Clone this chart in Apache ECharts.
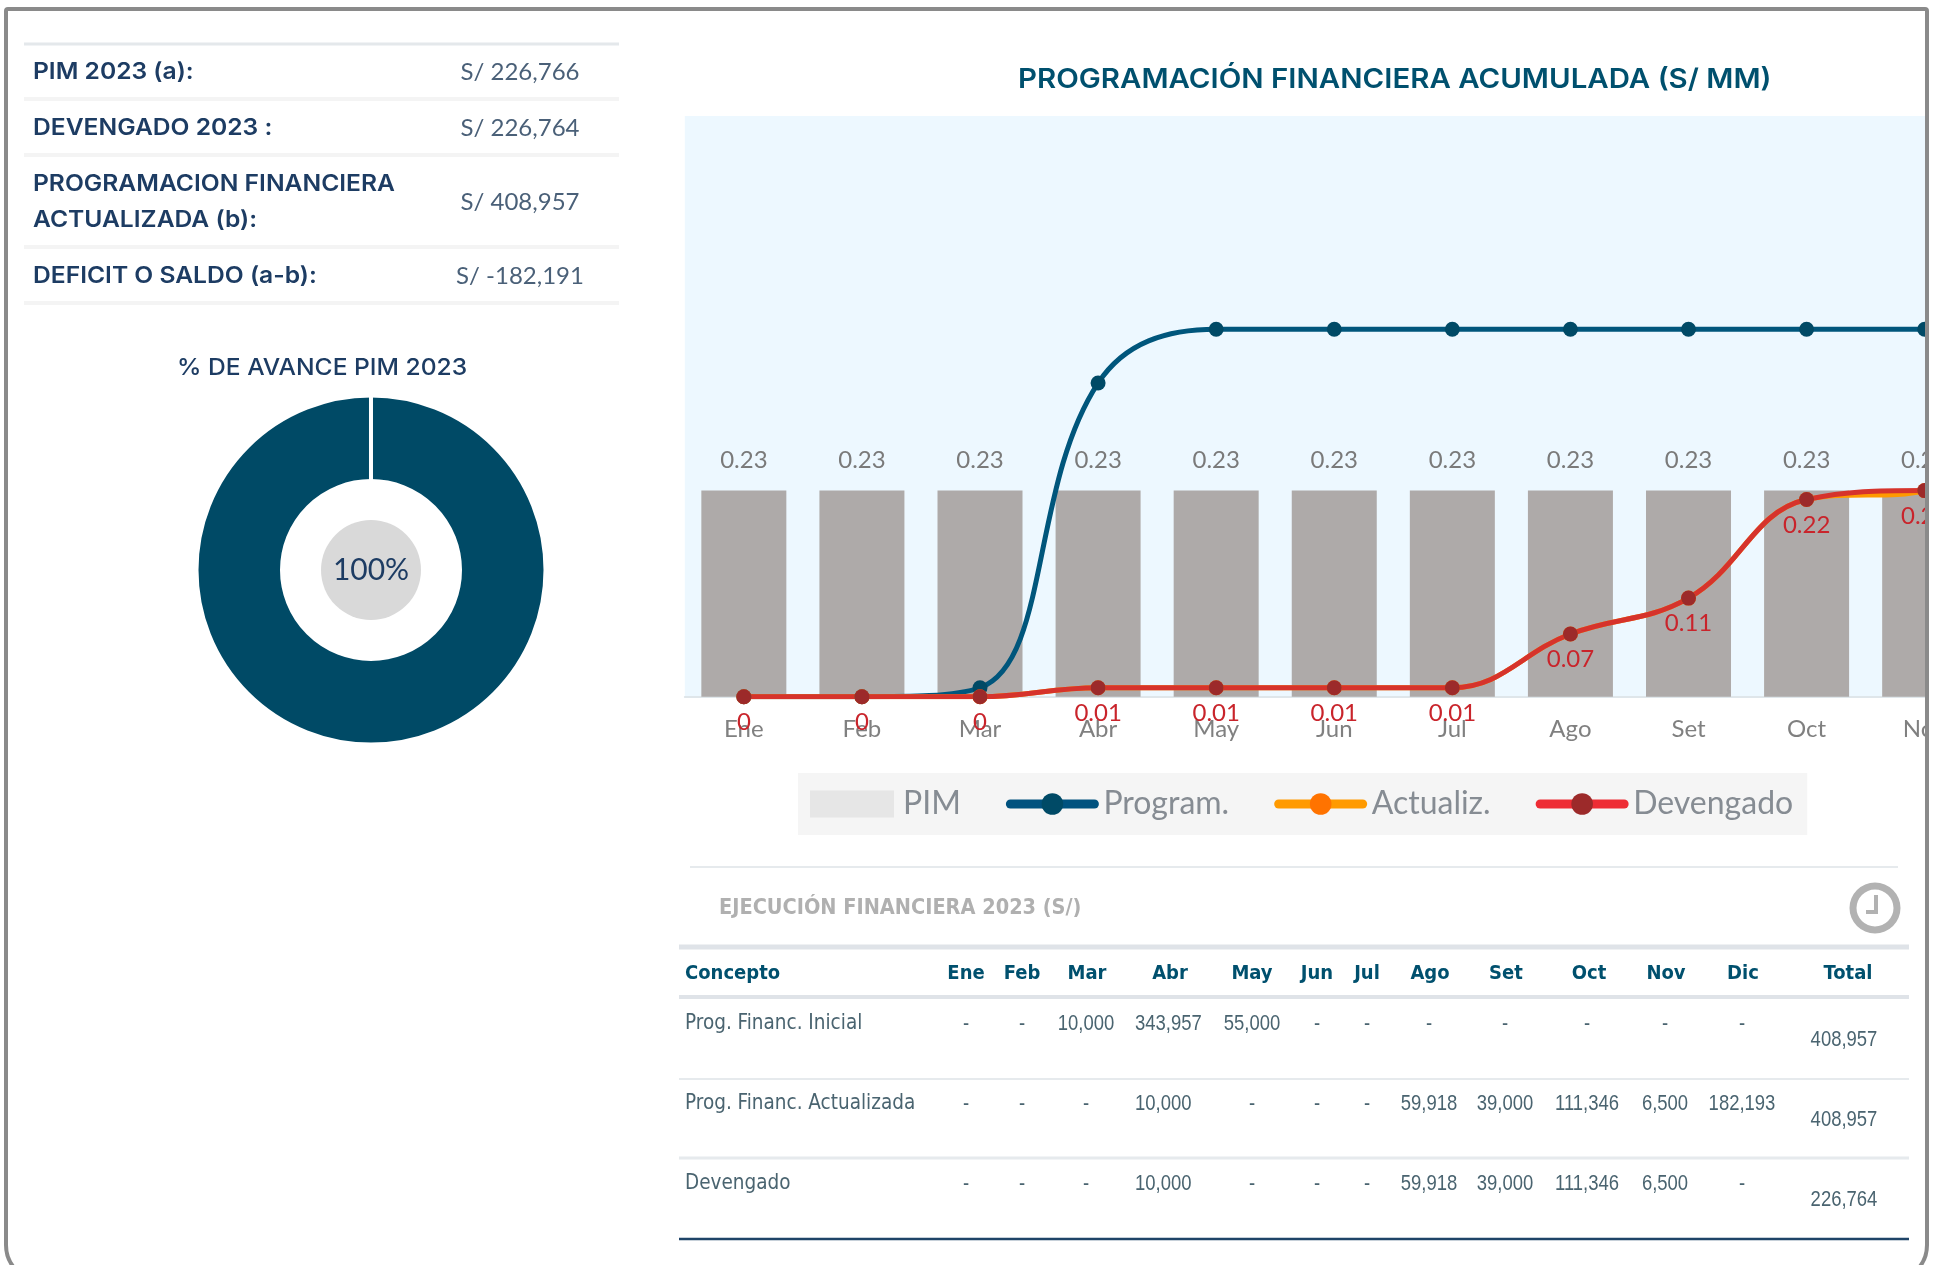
<!DOCTYPE html>
<html>
<head>
<meta charset="utf-8">
<title>Programación financiera</title>
<script src="https://cdn.jsdelivr.net/npm/echarts@6/dist/echarts.min.js"></script>
<style>
  html, body { margin: 0; padding: 0; background: #fff; }
  #main { width: 1947px; height: 1265px; }
</style>
</head>
<body>
<div id="main"></div>
<script>
// datos del grafico (S/ MM acumulado)
var meses = ['Ene', 'Feb', 'Mar', 'Abr', 'May', 'Jun', 'Jul', 'Ago', 'Set', 'Oct', 'Nov', 'Dic'];
var pim = [0.23, 0.23, 0.23, 0.23, 0.23, 0.23, 0.23, 0.23, 0.23, 0.23, 0.23, 0.23];
var program = [0, 0, 0.01, 0.35, 0.41, 0.41, 0.41, 0.41, 0.41, 0.41, 0.41, 0.41];
var actualiz = [0, 0, 0, 0.01, 0.01, 0.01, 0.01, 0.07, 0.11, 0.22, 0.23, 0.41];
var devengado = [0, 0, 0, 0.01, 0.01, 0.01, 0.01, 0.07, 0.11, 0.22, 0.23, 0.23];

// resumen de la izquierda
var resumenLabels = ['PIM 2023 (a):', 'DEVENGADO 2023 :', 'PROGRAMACION FINANCIERA\nACTUALIZADA (b):', 'DEFICIT O SALDO (a-b):'];
var resumenValores = ['S/ 226,766', 'S/ 226,764', 'S/ 408,957', 'S/ -182,191'];
var avanceValores = [226764, 2];
var avanceTexto = '100%';

// tabla de ejecucion
var filaConceptos = ['Prog. Financ. Inicial', 'Prog. Financ. Actualizada', 'Devengado'];
var filaInicial = [null, null, 10000, 343957, 55000, null, null, null, null, null, null, null];
var filaActualizada = [null, null, null, 10000, null, null, null, 59918, 39000, 111346, 6500, 182193];
var filaDevengado = [null, null, null, 10000, null, null, null, 59918, 39000, 111346, 6500, null];
var filaTotales = [408957, 408957, 226764];

var latin = 'Lato';
var titulo = 'Inter';
var tablaFont = '"DejaVu Sans Condensed", "DejaVu Sans"';
var numFont = '"Liberation Sans"';

function fmt(v) {
    return v === null ? '-' : v.toLocaleString('en-US');
}
function txt(x, y, text, font, size, color, align, weight, sx) {
    return {
        type: 'text', x: x, y: y, z: 50, silent: true, scaleX: sx || 1,
        style: {
            text: text, fontFamily: font, fontSize: size, fill: color,
            align: align || 'left', verticalAlign: 'middle', fontWeight: weight || 'normal', lineHeight: 36
        }
    };
}
function linea(x1, x2, y, w, color) {
    return { type: 'line', z: 50, silent: true, shape: { x1: x1, y1: y, x2: x2, y2: y }, style: { stroke: color, lineWidth: w } };
}

var graphics = [];

// titulos
graphics.push(txt(1018, 80, 'PROGRAMACIÓN FINANCIERA ACUMULADA (S/ MM)', titulo, 27, '#00506e', 'left', 600, 1.09));
graphics.push(txt(177, 368, '% DE AVANCE PIM 2023', titulo, 23, '#1d3c63', 'left', 500, 1.07));

// resumen
var resumenY = [72, 128, 202, 276];
[44, 99, 155, 247, 303].forEach(function (y, i) {
    graphics.push(linea(24, 619, y, i == 0 ? 3 : 4, i == 0 ? '#e4e8eb' : '#f4f4f4'));
});
resumenLabels.forEach(function (t, i) {
    graphics.push(txt(33, resumenY[i], t, titulo, 23, '#1d3c63', 'left', 600, 1.07));
    graphics.push(txt(520, resumenY[i], resumenValores[i], latin, 24, '#4a6078', 'center'));
});

// tabla
var colX = [966, 1022, 1087, 1170, 1252, 1317, 1367, 1430, 1506, 1589, 1666, 1743];
var celdaX = [966, 1022, 1086, 1135, 1252, 1317, 1367, 1429, 1505, 1587, 1665, 1742];
var filaY = [1024, 1104, 1184];
graphics.push(linea(690, 1898, 867, 2, '#e6eaed'));
graphics.push(txt(719, 908, 'EJECUCIÓN FINANCIERA 2023 (S/)', tablaFont, 21.5, '#b0b0b0', 'left', 'bold'));
graphics.push(linea(679, 1909, 947, 5, '#dfe3e8'));
graphics.push(linea(679, 1909, 997, 4, '#dfe3e8'));
graphics.push(linea(679, 1909, 1079, 2, '#e6eaed'));
graphics.push(linea(679, 1909, 1158, 3, '#e6eaed'));
graphics.push(linea(679, 1909, 1239, 2.5, '#1f4468'));
graphics.push(txt(685, 974, 'Concepto', tablaFont, 20, '#00506e', 'left', 'bold'));
meses.forEach(function (m, i) {
    graphics.push(txt(colX[i], 974, m, tablaFont, 20, '#00506e', 'center', 'bold'));
});
graphics.push(txt(1848, 974, 'Total', tablaFont, 20, '#00506e', 'center', 'bold'));
[filaInicial, filaActualizada, filaDevengado].forEach(function (fila, r) {
    graphics.push(txt(685, filaY[r], filaConceptos[r], tablaFont, 20.5, '#4a6470'));
    fila.forEach(function (v, i) {
        graphics.push(txt(celdaX[i], filaY[r], fmt(v), numFont, 22, '#4a6470', i == 3 ? 'left' : 'center', 'normal', 0.84));
    });
    graphics.push(txt(1844, filaY[r] + 16, fmt(filaTotales[r]), numFont, 22, '#4a6470', 'center', 'normal', 0.84));
});

// reloj
graphics.push({ type: 'ring', z: 50, silent: true, shape: { cx: 1875, cy: 908, r: 25.5, r0: 18.5 }, style: { fill: '#b2b2b2' } });
graphics.push({
    type: 'polyline', z: 50, silent: true,
    shape: { points: [[1876, 895], [1876, 912], [1866, 912]] },
    style: { stroke: '#b2b2b2', lineWidth: 4, fill: null }
});

// marco: lo que sale del marco queda tapado
graphics.push({ type: 'rect', z: 100, silent: true, shape: { x: 1929, y: 0, width: 18, height: 1265 }, style: { fill: '#fff' } });
graphics.push({
    type: 'rect', z: 101, silent: true,
    shape: { x: 6, y: 9, width: 1921, height: 1272, r: [2, 2, 36, 36] },
    style: { fill: null, stroke: '#8a8a8a', lineWidth: 4 }
});

var myChart = echarts.init(document.getElementById('main'), null, { renderer: 'canvas' });
myChart.setOption({
    animation: false,
    backgroundColor: '#fff',
    legend: {
        left: 798, top: 773, padding: [15, 14, 15, 12],
        backgroundColor: '#f5f5f5',
        itemWidth: 84, itemHeight: 27, itemGap: 45,
        textStyle: { fontFamily: latin, fontSize: 32, color: '#868c93', padding: [0, 0, 0, 4] },
        data: [
            { name: 'PIM', icon: 'rect', itemStyle: { color: '#e6e6e6' } },
            { name: 'Program.', itemStyle: { color: '#004a66' }, lineStyle: { color: '#00527f', width: 9, cap: 'round' } },
            { name: 'Actualiz.', itemStyle: { color: '#ff7300' }, lineStyle: { color: '#ff9a00', width: 9, cap: 'round' } },
            { name: 'Devengado', itemStyle: { color: '#9c2a2a' }, lineStyle: { color: '#ee2c34', width: 9, cap: 'round' } }
        ]
    },
    grid: {
        left: 684.8, top: 116, width: 1417, height: 580.7,
        outerBoundsMode: 'none',
        show: true, backgroundColor: '#edf8ff', borderWidth: 0
    },
    xAxis: {
        type: 'category',
        data: meses,
        axisTick: { show: false },
        axisLine: { lineStyle: { color: '#dfe6ea', width: 2 } },
        axisLabel: { fontFamily: latin, fontSize: 24, color: '#808080', margin: 21, interval: 0 }
    },
    yAxis: { type: 'value', min: 0, max: 0.648, show: false, splitLine: { show: false } },
    graphic: graphics,
    series: [{
        name: 'PIM', type: 'bar', data: pim, barWidth: 85,
        itemStyle: { color: '#aeaaa9' },
        label: { show: true, position: 'top', distance: 18, fontFamily: latin, fontSize: 24, color: '#7a7a7a' }
    }, {
        name: 'Program.', type: 'line', data: program, smooth: 0.4,
        symbol: 'circle', symbolSize: 15,
        itemStyle: { color: '#004a66' },
        lineStyle: { color: '#00567c', width: 5 }
    }, {
        name: 'Actualiz.', type: 'line', data: actualiz, smooth: 0.4,
        symbol: 'circle', symbolSize: 15,
        itemStyle: { color: '#ff7300' },
        lineStyle: { color: '#ff9a00', width: 5 }
    }, {
        name: 'Devengado', type: 'line', data: devengado, smooth: 0.4,
        symbol: 'circle', symbolSize: 15,
        itemStyle: { color: '#9c2a2a' },
        lineStyle: { color: '#d6332c', width: 5 },
        label: { show: true, position: 'bottom', distance: 6, fontFamily: latin, fontSize: 24, color: '#c9242b' }
    }, {
        type: 'pie', silent: true, center: [371, 570], radius: [89, 174.5],
        startAngle: 90, label: { show: false },
        itemStyle: { borderColor: '#fff', borderWidth: 4 },
        data: [
            { value: avanceValores[0], itemStyle: { color: '#004a66' } },
            { value: avanceValores[1], itemStyle: { color: '#d8dde0' } }
        ]
    }, {
        type: 'pie', silent: true, center: [371, 570], radius: [0, 50],
        itemStyle: { color: '#d9d9d9' },
        label: { show: true, position: 'center', formatter: avanceTexto, fontFamily: latin, fontSize: 30, color: '#1d3c63' },
        labelLine: { show: false },
        data: [{ value: 100 }]
    }]
});
</script>
</body>
</html>
